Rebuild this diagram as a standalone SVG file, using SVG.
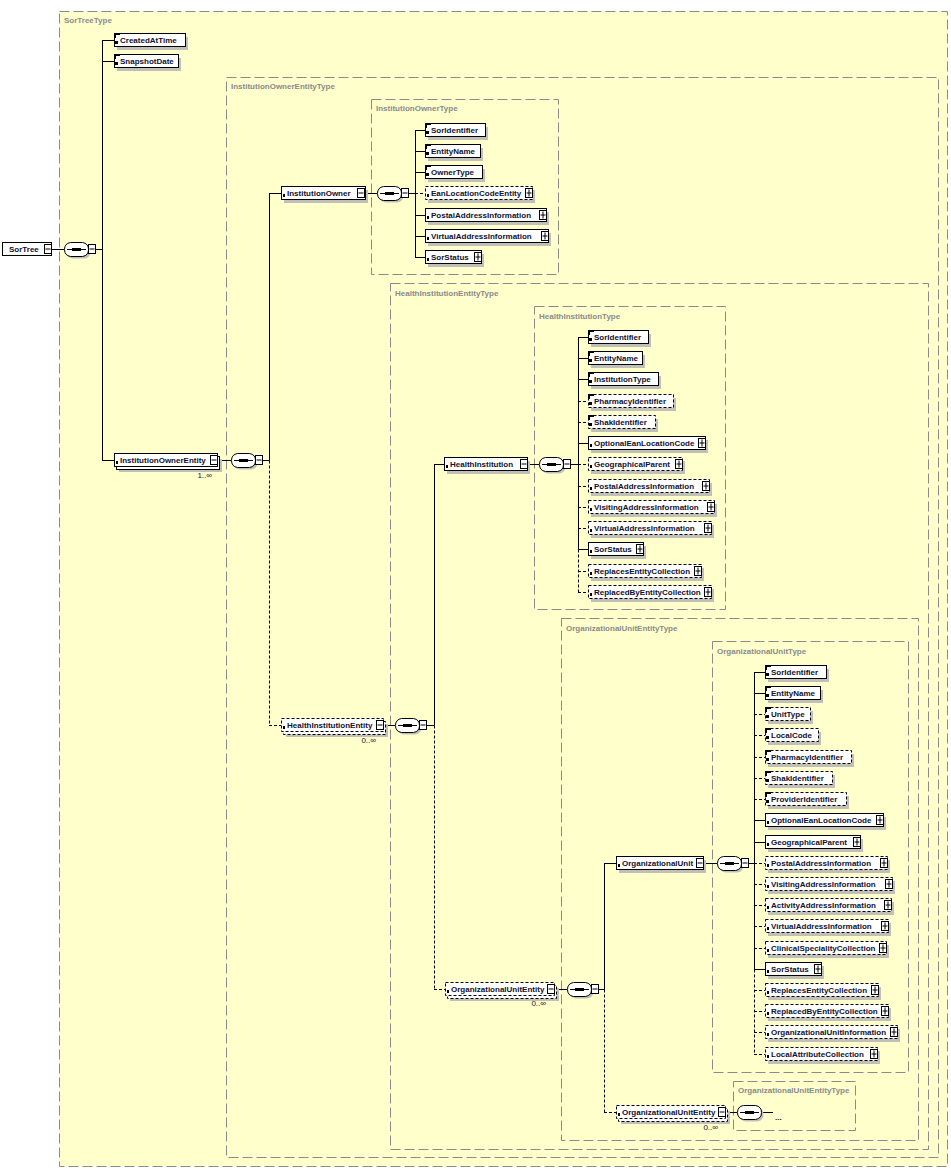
<svg xmlns="http://www.w3.org/2000/svg" width="951" height="1172" viewBox="0 0 951 1172">
<style>
.tb{fill:#FFFFCC;stroke:#8a8a8a;stroke-width:1;stroke-dasharray:10,4}
.tl{font-family:"Liberation Sans",Arial,sans-serif;font-weight:bold;font-size:8px;fill:#8a8a8a}
.t{font-family:"Liberation Sans",Arial,sans-serif;font-weight:bold;font-size:8px;fill:#101030}
.m{font-family:"Liberation Sans",Arial,sans-serif;font-size:8px;fill:#101030;text-anchor:end}
.sh{fill:#c0c0b8}
.bx{fill:#fff;stroke:#000;stroke-width:1}
.o{stroke-dasharray:3,2}
.c line,.c path{stroke:#000;stroke-width:1;fill:none}
.c .d{stroke-dasharray:3,2}
</style>
<defs>
<g id="minus"><rect x="0.5" y="0.5" width="7" height="9" fill="#fff" stroke="#000"/><line x1="1.5" y1="5" x2="6.5" y2="5" stroke="#000"/></g>
<g id="plus"><rect x="0.5" y="0.5" width="7" height="9" fill="#fff" stroke="#000"/><line x1="1.5" y1="5" x2="6.5" y2="5" stroke="#000"/><line x1="4" y1="1.5" x2="4" y2="8.5" stroke="#000"/></g>
<g id="simp" fill="#000"><rect x="0" y="0" width="6" height="2"/><rect x="0" y="0" width="2" height="5"/><rect x="1" y="8" width="3" height="3"/></g>
<g id="cplx" fill="#000"><rect x="2" y="8" width="2" height="3"/></g>
<g id="seq">
<path d="M8.5,2.5 H20.5 Q26.5,3.5 26.5,9.5 Q26.5,15.5 20.5,16.5 H8.5 Q2.5,15.5 2.5,9.5 Q2.5,3.5 8.5,2.5 Z" fill="#c0c0b8"/>
<path d="M6.5,0.5 H18.5 Q24.5,1.5 24.5,7.5 Q24.5,13.5 18.5,14.5 H6.5 Q0.5,13.5 0.5,7.5 Q0.5,1.5 6.5,0.5 Z" fill="#fff" stroke="#000"/>
<line x1="3" y1="7.5" x2="22" y2="7.5" stroke="#000"/>
<rect x="8" y="6" width="9" height="3" fill="#000"/>
</g>
</defs>
<rect x="0" y="0" width="951" height="1172" fill="#fff"/>
<g id="types">
<rect class="tb" x="59.5" y="11.5" width="888" height="1155"/>
<text class="tl" x="64" y="23">SorTreeType</text>
<rect class="tb" x="226.5" y="77.5" width="712" height="1080"/>
<text class="tl" x="231" y="89">InstitutionOwnerEntityType</text>
<rect class="tb" x="371.5" y="99.5" width="187" height="175"/>
<text class="tl" x="376" y="111">InstitutionOwnerType</text>
<rect class="tb" x="390.5" y="283.5" width="538" height="866"/>
<text class="tl" x="395" y="296">HealthInstitutionEntityType</text>
<rect class="tb" x="534.5" y="306.5" width="191" height="303"/>
<text class="tl" x="539" y="319">HealthInstitutionType</text>
<rect class="tb" x="561.5" y="618.5" width="357" height="522"/>
<text class="tl" x="566" y="631">OrganizationalUnitEntityType</text>
<rect class="tb" x="712.5" y="641.5" width="196" height="431"/>
<text class="tl" x="717" y="654">OrganizationalUnitType</text>
<rect class="tb" x="733.5" y="1081.5" width="122" height="49"/>
<text class="tl" x="738" y="1093">OrganizationalUnitEntityType</text>
</g>
<g id="connectors" class="c">
<line x1="52" y1="249.5" x2="64" y2="249.5"/>
<line x1="96" y1="249.5" x2="102.5" y2="249.5"/>
<line x1="102.5" y1="40.5" x2="102.5" y2="460.5"/>
<line x1="102" y1="40.5" x2="114" y2="40.5"/>
<line x1="102" y1="61.5" x2="114" y2="61.5"/>
<line x1="102" y1="460.5" x2="114" y2="460.5"/>
<line x1="218" y1="460.5" x2="231" y2="460.5"/>
<line x1="263" y1="460.5" x2="269.5" y2="460.5"/>
<line x1="269.5" y1="193.5" x2="269.5" y2="460.5"/>
<line class="d" x1="269.5" y1="460.5" x2="269.5" y2="725.5"/>
<line x1="269" y1="193.5" x2="281" y2="193.5"/>
<line class="d" x1="269" y1="725.5" x2="281" y2="725.5"/>
<line x1="365" y1="193.5" x2="377" y2="193.5"/>
<line x1="409" y1="193.5" x2="415.5" y2="193.5"/>
<line x1="415.5" y1="130.5" x2="415.5" y2="257.5"/>
<line x1="415" y1="130.5" x2="425" y2="130.5"/>
<line x1="415" y1="151.5" x2="425" y2="151.5"/>
<line x1="415" y1="172.5" x2="425" y2="172.5"/>
<line class="d" x1="415" y1="193.5" x2="425" y2="193.5"/>
<line x1="415" y1="215.5" x2="425" y2="215.5"/>
<line x1="415" y1="236.5" x2="425" y2="236.5"/>
<line x1="415" y1="257.5" x2="425" y2="257.5"/>
<line x1="384" y1="725.5" x2="395" y2="725.5"/>
<line x1="427" y1="725.5" x2="434.5" y2="725.5"/>
<line x1="434.5" y1="464.5" x2="434.5" y2="725.5"/>
<line class="d" x1="434.5" y1="725.5" x2="434.5" y2="989.5"/>
<line x1="434" y1="464.5" x2="444" y2="464.5"/>
<line class="d" x1="434" y1="989.5" x2="445" y2="989.5"/>
<line x1="528" y1="464.5" x2="539" y2="464.5"/>
<line x1="571" y1="464.5" x2="578.5" y2="464.5"/>
<line x1="578.5" y1="337.5" x2="578.5" y2="549.5"/>
<line class="d" x1="578.5" y1="549.5" x2="578.5" y2="592.5"/>
<line x1="578" y1="337.5" x2="588" y2="337.5"/>
<line x1="578" y1="358.5" x2="588" y2="358.5"/>
<line x1="578" y1="379.5" x2="588" y2="379.5"/>
<line class="d" x1="578" y1="401.5" x2="588" y2="401.5"/>
<line class="d" x1="578" y1="422.5" x2="588" y2="422.5"/>
<line x1="578" y1="443.5" x2="588" y2="443.5"/>
<line class="d" x1="578" y1="464.5" x2="588" y2="464.5"/>
<line class="d" x1="578" y1="486.5" x2="588" y2="486.5"/>
<line class="d" x1="578" y1="507.5" x2="588" y2="507.5"/>
<line class="d" x1="578" y1="528.5" x2="588" y2="528.5"/>
<line x1="578" y1="549.5" x2="588" y2="549.5"/>
<line class="d" x1="578" y1="571.5" x2="588" y2="571.5"/>
<line class="d" x1="578" y1="592.5" x2="588" y2="592.5"/>
<line x1="555" y1="989.5" x2="567" y2="989.5"/>
<line x1="599" y1="989.5" x2="604.5" y2="989.5"/>
<line x1="604.5" y1="863.5" x2="604.5" y2="989.5"/>
<line class="d" x1="604.5" y1="989.5" x2="604.5" y2="1112.5"/>
<line x1="604" y1="863.5" x2="616" y2="863.5"/>
<line class="d" x1="604" y1="1112.5" x2="616" y2="1112.5"/>
<line x1="704" y1="863.5" x2="717" y2="863.5"/>
<line x1="749" y1="863.5" x2="754.5" y2="863.5"/>
<line x1="754.5" y1="672.5" x2="754.5" y2="969.5"/>
<line class="d" x1="754.5" y1="969.5" x2="754.5" y2="1054.5"/>
<line x1="754" y1="672.5" x2="765" y2="672.5"/>
<line x1="754" y1="693.5" x2="765" y2="693.5"/>
<line class="d" x1="754" y1="714.5" x2="765" y2="714.5"/>
<line class="d" x1="754" y1="735.5" x2="765" y2="735.5"/>
<line class="d" x1="754" y1="757.5" x2="765" y2="757.5"/>
<line class="d" x1="754" y1="778.5" x2="765" y2="778.5"/>
<line class="d" x1="754" y1="799.5" x2="765" y2="799.5"/>
<line x1="754" y1="820.5" x2="765" y2="820.5"/>
<line x1="754" y1="842.5" x2="765" y2="842.5"/>
<line class="d" x1="754" y1="863.5" x2="765" y2="863.5"/>
<line class="d" x1="754" y1="884.5" x2="765" y2="884.5"/>
<line class="d" x1="754" y1="905.5" x2="765" y2="905.5"/>
<line class="d" x1="754" y1="926.5" x2="765" y2="926.5"/>
<line class="d" x1="754" y1="948.5" x2="765" y2="948.5"/>
<line x1="754" y1="969.5" x2="765" y2="969.5"/>
<line class="d" x1="754" y1="990.5" x2="765" y2="990.5"/>
<line class="d" x1="754" y1="1011.5" x2="765" y2="1011.5"/>
<line class="d" x1="754" y1="1032.5" x2="765" y2="1032.5"/>
<line class="d" x1="754" y1="1054.5" x2="765" y2="1054.5"/>
<line x1="726" y1="1112.5" x2="737" y2="1112.5"/>
<line x1="762" y1="1112.5" x2="773" y2="1112.5"/>
</g>
<g id="compositors">
<g id="seq1"><use href="#seq" x="64" y="242"/><use href="#minus" x="88" y="244"/></g>
<g id="seq2"><use href="#seq" x="231" y="453"/><use href="#minus" x="255" y="455"/></g>
<g id="seq3"><use href="#seq" x="377" y="186"/><use href="#minus" x="401" y="188"/></g>
<g id="seq4"><use href="#seq" x="395" y="718"/><use href="#minus" x="419" y="720"/></g>
<g id="seq5"><use href="#seq" x="539" y="457"/><use href="#minus" x="563" y="459"/></g>
<g id="seq6"><use href="#seq" x="567" y="982"/><use href="#minus" x="591" y="984"/></g>
<g id="seq7"><use href="#seq" x="717" y="856"/><use href="#minus" x="741" y="858"/></g>
<g id="seq8"><use href="#seq" x="737" y="1105"/><text class="t" x="775" y="1120">...</text></g>
</g>
<g id="n-sortree"><rect class="bx" x="2.5" y="242.5" width="49" height="13"/><text class="t" x="9" y="252">SorTree</text><use href="#minus" x="44" y="244"/></g>
<g id="n-createdattime"><rect class="sh" x="117" y="37" width="71" height="13"/><rect class="bx" x="114.5" y="33.5" width="71" height="13"/><use href="#simp" x="114" y="33"/><text class="t" x="120" y="43">CreatedAtTime</text></g>
<g id="n-snapshotdate"><rect class="sh" x="117" y="58" width="64" height="13"/><rect class="bx" x="114.5" y="54.5" width="64" height="13"/><use href="#simp" x="114" y="54"/><text class="t" x="120" y="64">SnapshotDate</text></g>
<g id="n-institutionownerentity"><rect class="sh" x="119" y="459" width="103" height="13"/><rect class="bx" x="116.5" y="456.5" width="103" height="13"/><rect class="bx" x="114.5" y="453.5" width="103" height="13"/><use href="#cplx" x="114" y="453"/><text class="t" x="120" y="463">InstitutionOwnerEntity</text><use href="#minus" x="210" y="455"/><text class="m" x="212" y="478">1..∞</text></g>
<g id="n-institutionowner"><rect class="sh" x="284" y="190" width="84" height="13"/><rect class="bx" x="281.5" y="186.5" width="84" height="13"/><use href="#cplx" x="281" y="186"/><text class="t" x="287" y="196">InstitutionOwner</text><use href="#minus" x="357" y="188"/></g>
<g id="n-io-soridentifier"><rect class="sh" x="428" y="127" width="60" height="13"/><rect class="bx" x="425.5" y="123.5" width="60" height="13"/><use href="#simp" x="425" y="123"/><text class="t" x="431" y="133">SorIdentifier</text></g>
<g id="n-io-entityname"><rect class="sh" x="428" y="148" width="55" height="13"/><rect class="bx" x="425.5" y="144.5" width="55" height="13"/><use href="#simp" x="425" y="144"/><text class="t" x="431" y="154">EntityName</text></g>
<g id="n-io-ownertype"><rect class="sh" x="428" y="169" width="57" height="13"/><rect class="bx" x="425.5" y="165.5" width="57" height="13"/><use href="#simp" x="425" y="165"/><text class="t" x="431" y="175">OwnerType</text></g>
<g id="n-io-eanlocationcodeentity"><rect class="sh" x="428" y="190" width="107" height="13"/><rect class="bx o" x="425.5" y="186.5" width="107" height="13"/><use href="#cplx" x="425" y="186"/><text class="t" x="431" y="196">EanLocationCodeEntity</text><use href="#plus" x="525" y="188"/></g>
<g id="n-io-postaladdressinformation"><rect class="sh" x="428" y="212" width="121" height="13"/><rect class="bx" x="425.5" y="208.5" width="121" height="13"/><use href="#cplx" x="425" y="208"/><text class="t" x="431" y="218">PostalAddressInformation</text><use href="#plus" x="539" y="210"/></g>
<g id="n-io-virtualaddressinformation"><rect class="sh" x="428" y="233" width="123" height="13"/><rect class="bx" x="425.5" y="229.5" width="123" height="13"/><use href="#cplx" x="425" y="229"/><text class="t" x="431" y="239">VirtualAddressInformation</text><use href="#plus" x="541" y="231"/></g>
<g id="n-io-sorstatus"><rect class="sh" x="428" y="254" width="56" height="13"/><rect class="bx" x="425.5" y="250.5" width="56" height="13"/><use href="#cplx" x="425" y="250"/><text class="t" x="431" y="260">SorStatus</text><use href="#plus" x="474" y="252"/></g>
<g id="n-healthinstitutionentity"><rect class="sh" x="286" y="724" width="102" height="13"/><rect class="bx o" x="283.5" y="721.5" width="102" height="13"/><rect class="bx o" x="281.5" y="718.5" width="102" height="13"/><use href="#cplx" x="281" y="718"/><text class="t" x="287" y="728">HealthInstitutionEntity</text><use href="#minus" x="376" y="720"/><text class="m" x="376" y="743">0..∞</text></g>
<g id="n-healthinstitution"><rect class="sh" x="447" y="461" width="83" height="13"/><rect class="bx" x="444.5" y="457.5" width="83" height="13"/><use href="#cplx" x="444" y="457"/><text class="t" x="450" y="467">HealthInstitution</text><use href="#minus" x="520" y="459"/></g>
<g id="n-hi-soridentifier"><rect class="sh" x="591" y="334" width="60" height="13"/><rect class="bx" x="588.5" y="330.5" width="60" height="13"/><use href="#simp" x="588" y="330"/><text class="t" x="594" y="340">SorIdentifier</text></g>
<g id="n-hi-entityname"><rect class="sh" x="591" y="355" width="54" height="13"/><rect class="bx" x="588.5" y="351.5" width="54" height="13"/><use href="#simp" x="588" y="351"/><text class="t" x="594" y="361">EntityName</text></g>
<g id="n-hi-institutiontype"><rect class="sh" x="591" y="376" width="70" height="13"/><rect class="bx" x="588.5" y="372.5" width="70" height="13"/><use href="#simp" x="588" y="372"/><text class="t" x="594" y="382">InstitutionType</text></g>
<g id="n-hi-pharmacyidentifier"><rect class="sh" x="591" y="398" width="85" height="13"/><rect class="bx o" x="588.5" y="394.5" width="85" height="13"/><use href="#simp" x="588" y="394"/><text class="t" x="594" y="404">PharmacyIdentifier</text></g>
<g id="n-hi-shakidentifier"><rect class="sh" x="591" y="419" width="67" height="13"/><rect class="bx o" x="588.5" y="415.5" width="67" height="13"/><use href="#simp" x="588" y="415"/><text class="t" x="594" y="425">ShakIdentifier</text></g>
<g id="n-hi-optionaleanlocationcode"><rect class="sh" x="591" y="440" width="117" height="13"/><rect class="bx" x="588.5" y="436.5" width="117" height="13"/><use href="#cplx" x="588" y="436"/><text class="t" x="594" y="446">OptionalEanLocationCode</text><use href="#plus" x="698" y="438"/></g>
<g id="n-hi-geographicalparent"><rect class="sh" x="591" y="461" width="94" height="13"/><rect class="bx o" x="588.5" y="457.5" width="94" height="13"/><use href="#cplx" x="588" y="457"/><text class="t" x="594" y="467">GeographicalParent</text><use href="#plus" x="675" y="459"/></g>
<g id="n-hi-postaladdressinformation"><rect class="sh" x="591" y="483" width="121" height="13"/><rect class="bx o" x="588.5" y="479.5" width="121" height="13"/><use href="#cplx" x="588" y="479"/><text class="t" x="594" y="489">PostalAddressInformation</text><use href="#plus" x="702" y="481"/></g>
<g id="n-hi-visitingaddressinformation"><rect class="sh" x="591" y="504" width="126" height="13"/><rect class="bx o" x="588.5" y="500.5" width="126" height="13"/><use href="#cplx" x="588" y="500"/><text class="t" x="594" y="510">VisitingAddressInformation</text><use href="#plus" x="707" y="502"/></g>
<g id="n-hi-virtualaddressinformation"><rect class="sh" x="591" y="525" width="123" height="13"/><rect class="bx o" x="588.5" y="521.5" width="123" height="13"/><use href="#cplx" x="588" y="521"/><text class="t" x="594" y="531">VirtualAddressInformation</text><use href="#plus" x="704" y="523"/></g>
<g id="n-hi-sorstatus"><rect class="sh" x="591" y="546" width="55" height="13"/><rect class="bx" x="588.5" y="542.5" width="55" height="13"/><use href="#cplx" x="588" y="542"/><text class="t" x="594" y="552">SorStatus</text><use href="#plus" x="636" y="544"/></g>
<g id="n-hi-replacesentitycollection"><rect class="sh" x="591" y="568" width="113" height="13"/><rect class="bx o" x="588.5" y="564.5" width="113" height="13"/><use href="#cplx" x="588" y="564"/><text class="t" x="594" y="574">ReplacesEntityCollection</text><use href="#plus" x="694" y="566"/></g>
<g id="n-hi-replacedbyentitycollection"><rect class="sh" x="591" y="589" width="123" height="13"/><rect class="bx o" x="588.5" y="585.5" width="123" height="13"/><use href="#cplx" x="588" y="585"/><text class="t" x="594" y="595">ReplacedByEntityCollection</text><use href="#plus" x="704" y="587"/></g>
<g id="n-organizationalunitentity"><rect class="sh" x="450" y="988" width="109" height="13"/><rect class="bx o" x="447.5" y="985.5" width="109" height="13"/><rect class="bx o" x="445.5" y="982.5" width="109" height="13"/><use href="#cplx" x="445" y="982"/><text class="t" x="451" y="992">OrganizationalUnitEntity</text><use href="#minus" x="547" y="984"/><text class="m" x="546" y="1006">0..∞</text></g>
<g id="n-organizationalunit"><rect class="sh" x="619" y="860" width="87" height="13"/><rect class="bx" x="616.5" y="856.5" width="87" height="13"/><use href="#cplx" x="616" y="856"/><text class="t" x="622" y="866">OrganizationalUnit</text><use href="#minus" x="696" y="858"/></g>
<g id="n-ou-soridentifier"><rect class="sh" x="768" y="669" width="61" height="13"/><rect class="bx" x="765.5" y="665.5" width="61" height="13"/><use href="#simp" x="765" y="665"/><text class="t" x="771" y="675">SorIdentifier</text></g>
<g id="n-ou-entityname"><rect class="sh" x="768" y="690" width="55" height="13"/><rect class="bx" x="765.5" y="686.5" width="55" height="13"/><use href="#simp" x="765" y="686"/><text class="t" x="771" y="696">EntityName</text></g>
<g id="n-ou-unittype"><rect class="sh" x="768" y="711" width="45" height="13"/><rect class="bx o" x="765.5" y="707.5" width="45" height="13"/><use href="#simp" x="765" y="707"/><text class="t" x="771" y="717">UnitType</text></g>
<g id="n-ou-localcode"><rect class="sh" x="768" y="732" width="53" height="13"/><rect class="bx o" x="765.5" y="728.5" width="53" height="13"/><use href="#simp" x="765" y="728"/><text class="t" x="771" y="738">LocalCode</text></g>
<g id="n-ou-pharmacyidentifier"><rect class="sh" x="768" y="754" width="86" height="13"/><rect class="bx o" x="765.5" y="750.5" width="86" height="13"/><use href="#simp" x="765" y="750"/><text class="t" x="771" y="760">PharmacyIdentifier</text></g>
<g id="n-ou-shakidentifier"><rect class="sh" x="768" y="775" width="67" height="13"/><rect class="bx o" x="765.5" y="771.5" width="67" height="13"/><use href="#simp" x="765" y="771"/><text class="t" x="771" y="781">ShakIdentifier</text></g>
<g id="n-ou-provideridentifier"><rect class="sh" x="768" y="796" width="81" height="13"/><rect class="bx o" x="765.5" y="792.5" width="81" height="13"/><use href="#simp" x="765" y="792"/><text class="t" x="771" y="802">ProviderIdentifier</text></g>
<g id="n-ou-optionaleanlocationcode"><rect class="sh" x="768" y="817" width="118" height="13"/><rect class="bx" x="765.5" y="813.5" width="118" height="13"/><use href="#cplx" x="765" y="813"/><text class="t" x="771" y="823">OptionalEanLocationCode</text><use href="#plus" x="876" y="815"/></g>
<g id="n-ou-geographicalparent"><rect class="sh" x="768" y="839" width="95" height="13"/><rect class="bx" x="765.5" y="835.5" width="95" height="13"/><use href="#cplx" x="765" y="835"/><text class="t" x="771" y="845">GeographicalParent</text><use href="#plus" x="853" y="837"/></g>
<g id="n-ou-postaladdressinformation"><rect class="sh" x="768" y="860" width="122" height="13"/><rect class="bx o" x="765.5" y="856.5" width="122" height="13"/><use href="#cplx" x="765" y="856"/><text class="t" x="771" y="866">PostalAddressInformation</text><use href="#plus" x="880" y="858"/></g>
<g id="n-ou-visitingaddressinformation"><rect class="sh" x="768" y="881" width="127" height="13"/><rect class="bx o" x="765.5" y="877.5" width="127" height="13"/><use href="#cplx" x="765" y="877"/><text class="t" x="771" y="887">VisitingAddressInformation</text><use href="#plus" x="885" y="879"/></g>
<g id="n-ou-activityaddressinformation"><rect class="sh" x="768" y="902" width="126" height="13"/><rect class="bx o" x="765.5" y="898.5" width="126" height="13"/><use href="#cplx" x="765" y="898"/><text class="t" x="771" y="908">ActivityAddressInformation</text><use href="#plus" x="884" y="900"/></g>
<g id="n-ou-virtualaddressinformation"><rect class="sh" x="768" y="923" width="123" height="13"/><rect class="bx o" x="765.5" y="919.5" width="123" height="13"/><use href="#cplx" x="765" y="919"/><text class="t" x="771" y="929">VirtualAddressInformation</text><use href="#plus" x="881" y="921"/></g>
<g id="n-ou-clinicalspecialitycollection"><rect class="sh" x="768" y="945" width="121" height="13"/><rect class="bx o" x="765.5" y="941.5" width="121" height="13"/><use href="#cplx" x="765" y="941"/><text class="t" x="771" y="951">ClinicalSpecialityCollection</text><use href="#plus" x="879" y="943"/></g>
<g id="n-ou-sorstatus"><rect class="sh" x="768" y="966" width="56" height="13"/><rect class="bx" x="765.5" y="962.5" width="56" height="13"/><use href="#cplx" x="765" y="962"/><text class="t" x="771" y="972">SorStatus</text><use href="#plus" x="814" y="964"/></g>
<g id="n-ou-replacesentitycollection"><rect class="sh" x="768" y="987" width="113" height="13"/><rect class="bx o" x="765.5" y="983.5" width="113" height="13"/><use href="#cplx" x="765" y="983"/><text class="t" x="771" y="993">ReplacesEntityCollection</text><use href="#plus" x="871" y="985"/></g>
<g id="n-ou-replacedbyentitycollection"><rect class="sh" x="768" y="1008" width="123" height="13"/><rect class="bx o" x="765.5" y="1004.5" width="123" height="13"/><use href="#cplx" x="765" y="1004"/><text class="t" x="771" y="1014">ReplacedByEntityCollection</text><use href="#plus" x="881" y="1006"/></g>
<g id="n-ou-organizationalunitinformation"><rect class="sh" x="768" y="1029" width="132" height="13"/><rect class="bx o" x="765.5" y="1025.5" width="132" height="13"/><use href="#cplx" x="765" y="1025"/><text class="t" x="771" y="1035">OrganizationalUnitInformation</text><use href="#plus" x="890" y="1027"/></g>
<g id="n-ou-localattributecollection"><rect class="sh" x="768" y="1051" width="112" height="13"/><rect class="bx o" x="765.5" y="1047.5" width="112" height="13"/><use href="#cplx" x="765" y="1047"/><text class="t" x="771" y="1057">LocalAttributeCollection</text><use href="#plus" x="870" y="1049"/></g>
<g id="n-organizationalunitentity2"><rect class="sh" x="621" y="1111" width="109" height="13"/><rect class="bx o" x="618.5" y="1108.5" width="109" height="13"/><rect class="bx o" x="616.5" y="1105.5" width="109" height="13"/><use href="#cplx" x="616" y="1105"/><text class="t" x="622" y="1115">OrganizationalUnitEntity</text><use href="#minus" x="718" y="1107"/><text class="m" x="718" y="1130">0..∞</text></g>
</svg>
